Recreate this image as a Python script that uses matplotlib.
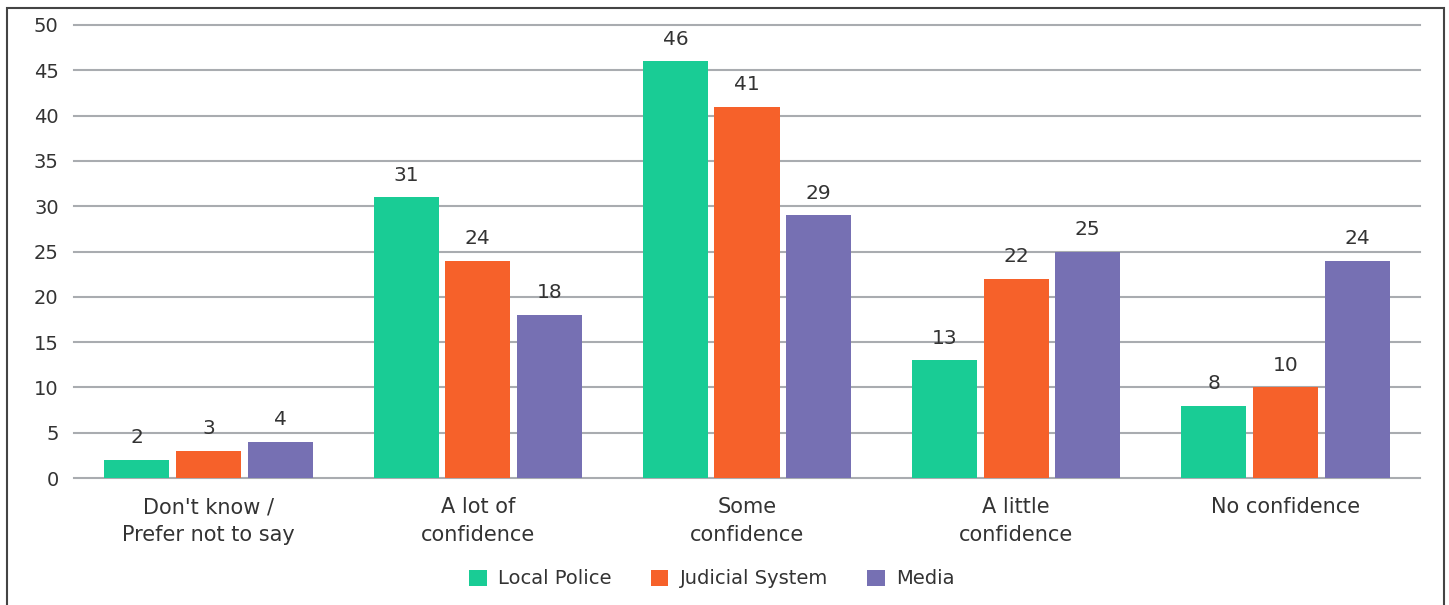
import matplotlib
matplotlib.use("Agg")
import matplotlib.pyplot as plt
import numpy as np
from matplotlib.patches import Rectangle

categories = ["Don't know /\nPrefer not to say", "A lot of\nconfidence", "Some\nconfidence",
              "A little\nconfidence", "No confidence"]
series_names = ["Local Police", "Judicial System", "Media"]
local_police = [2, 31, 46, 13, 8]
judicial_system = [3, 24, 41, 22, 10]
media = [4, 18, 29, 25, 24]
yticks = [0, 5, 10, 15, 20, 25, 30, 35, 40, 45, 50]

colors = ["#19CC95", "#F6612A", "#7670B3"]
text_color = "#333333"
grid_color = "#A9ACB0"

plt.rcParams['font.family'] = ['DejaVu Sans']

W, H = 1449, 605
fig = plt.figure(figsize=(W / 100, H / 100), dpi=100)
ax = fig.add_axes([74 / W, 1 - 478 / H, (1420 - 74) / W, (478 - 25) / H])

# outer frame (clipped at bottom like the reference)
fig.patches.append(Rectangle((7 / W, -0.05), (1444 - 7) / W, 1 - 8 / H + 0.05,
                             transform=fig.transFigure, fill=False,
                             edgecolor="#444444", linewidth=1.5))

x = np.arange(len(categories))
bw = 0.2415
step = 0.266
all_series = [local_police, judicial_system, media]
for i, (vals, name, c) in enumerate(zip(all_series, series_names, colors)):
    pos = x + (i - 1) * step
    bars = ax.bar(pos, vals, width=bw, color=c, label=name, zorder=3)
    for b, v in zip(bars, vals):
        ax.annotate(str(v), (b.get_x() + b.get_width() / 2, v), xytext=(0, 9),
                    textcoords="offset points", ha="center", va="bottom",
                    fontsize=14.5, color=text_color)

ax.set_xlim(-0.5, len(categories) - 0.5)
ax.set_ylim(0, 50)
ax.set_yticks(yticks)
ax.yaxis.grid(True, color=grid_color, linewidth=1.5, zorder=0)
for gl in ax.get_ygridlines():
    gl.set_clip_on(False)
ax.set_axisbelow(True)
for s in ax.spines.values():
    s.set_visible(False)
ax.tick_params(axis="both", length=0, labelsize=14, colors=text_color)
ax.tick_params(axis="y", pad=11)
ax.tick_params(axis="x", pad=14)
ax.set_xticks(x)
ax.set_xticklabels(categories, fontsize=15, color=text_color, linespacing=1.45)

leg = fig.legend(loc="center", bbox_to_anchor=(712 / W, 1 - 579 / H), ncol=3,
                 frameon=False, fontsize=14, handlelength=0.9, handleheight=0.9,
                 columnspacing=2.0, handletextpad=0.6)
for t in leg.get_texts():
    t.set_color(text_color)

fig.savefig("out.png", dpi=100, facecolor="white")
